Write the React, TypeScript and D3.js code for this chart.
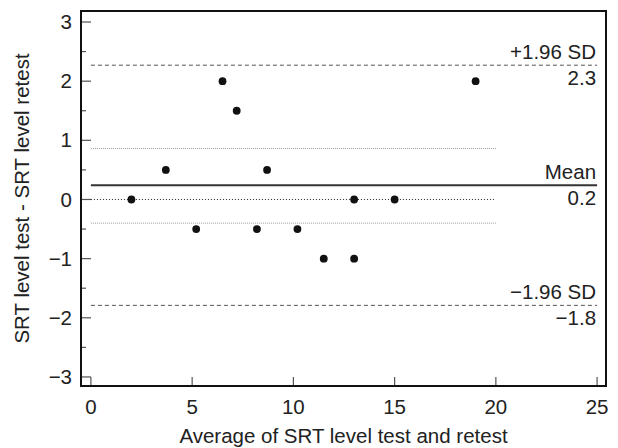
import { useMemo } from "react";
import * as d3 from "d3";

const WIDTH = 618;
const HEIGHT = 448;

// Bland-Altman points: average (x) vs difference (y)
const averages = [2, 3.7, 5.2, 6.5, 7.2, 8.2, 8.7, 10.2, 11.5, 13, 13, 15, 19];
const differences = [0, 0.5, -0.5, 2, 1.5, -0.5, 0.5, -0.5, -1, 0, -1, 0, 2];

const meanDiff = 0.24;
const upperLimit = 2.27;
const lowerLimit = -1.79;
const ciBounds = [0.86, -0.4];

const limitLabels = [
  { value: upperLimit, name: "+1.96 SD", text: "2.3" },
  { value: meanDiff, name: "Mean", text: "0.2" },
  { value: lowerLimit, name: "\u22121.96 SD", text: "\u22121.8" },
];

const xTicks = [0, 5, 10, 15, 20, 25];
const yTicks = [-3, -2, -1, 0, 1, 2, 3];
const yMinorTicks = [-2.5, -1.5, -0.5, 0.5, 1.5, 2.5];

const FONT = "'Liberation Sans', Arial, Helvetica, sans-serif";
const FS = 20.5;

function BlandAltman() {
  const margin = { left: 81, right: 12, top: 11, bottom: 62 };

  const xScale = useMemo(
    () =>
      d3
        .scaleLinear()
        .domain([-0.49, 25.44])
        .range([margin.left, WIDTH - margin.right]),
    []
  );

  const yScale = useMemo(
    () =>
      d3
        .scaleLinear()
        .domain([-3.153, 3.186])
        .range([HEIGHT - margin.bottom, margin.top]),
    []
  );

  const left = margin.left;
  const right = WIDTH - margin.right;
  const top = margin.top;
  const bottom = HEIGHT - margin.bottom;

  const hline = (v: number, x0: number, x1: number) =>
    d3.line()([
      [xScale(x0), yScale(v)],
      [xScale(x1), yScale(v)],
    ]) as string;

  return (
    <svg
      width={WIDTH}
      height={HEIGHT}
      style={{ position: "absolute", left: 0, top: 0, background: "white" }}
      fontFamily={FONT}
    >
      {/* y ticks */}
      {yTicks.map((t) => (
        <g key={"y" + t}>
          <line x1={left} x2={left + 10} y1={yScale(t)} y2={yScale(t)} stroke="#555" strokeWidth={1.2} />
          <text x={72} y={yScale(t)} dy="0.35em" textAnchor="end" fontSize={FS} fill="#222">
            {t < 0 ? "\u2212" + Math.abs(t) : t}
          </text>
        </g>
      ))}
      {yMinorTicks.map((t) => (
        <line key={"ym" + t} x1={left} x2={left + 5} y1={yScale(t)} y2={yScale(t)} stroke="#555" strokeWidth={1.2} />
      ))}

      {/* x ticks */}
      {xTicks.map((t) => (
        <g key={"x" + t}>
          <line x1={xScale(t)} x2={xScale(t)} y1={bottom} y2={bottom - 9} stroke="#555" strokeWidth={1.2} />
          <text x={xScale(t)} y={414} textAnchor="middle" fontSize={FS} fill="#222">
            {t}
          </text>
        </g>
      ))}

      {/* reference lines */}
      <path d={hline(0, 0, 20)} stroke="#222" strokeWidth={1} strokeDasharray="1,2" fill="none" />
      {ciBounds.map((v) => (
        <path key={"ci" + v} d={hline(v, 0, 20)} stroke="#999" strokeWidth={1} strokeDasharray="1,1" fill="none" />
      ))}
      <path d={hline(upperLimit, 0, 25)} stroke="#555" strokeWidth={1} strokeDasharray="4,3" fill="none" />
      <path d={hline(lowerLimit, 0, 25)} stroke="#555" strokeWidth={1} strokeDasharray="4,3" fill="none" />
      <path d={hline(meanDiff, 0, 25)} stroke="#333" strokeWidth={2} fill="none" />

      {limitLabels.map((l) => (
        <g key={l.name} fontSize={FS} fill="#222" textAnchor="end">
          <text x={xScale(25) - 1} y={yScale(l.value) - 6}>
            {l.name}
          </text>
          <text x={xScale(25) - 1} y={yScale(l.value) + 20}>
            {l.text}
          </text>
        </g>
      ))}

      {/* points */}
      {averages.map((a, i) => (
        <circle key={i} cx={xScale(a)} cy={yScale(differences[i])} r={3.9} fill="#111" />
      ))}

      {/* frame */}
      <rect x={left} y={top} width={right - left} height={bottom - top} fill="none" stroke="#111" strokeWidth={2} />

      {/* axis titles */}
      <text x={(left + right) / 2} y={443} textAnchor="middle" fontSize={FS} fill="#222">
        Average of SRT level test and retest
      </text>
      <text
        transform={`translate(29, ${(top + bottom) / 2}) rotate(-90)`}
        textAnchor="middle"
        fontSize={FS}
        fill="#222"
      >
        SRT level test - SRT level retest
      </text>
    </svg>
  );
}

export default function App() {
  return <BlandAltman />;
}
